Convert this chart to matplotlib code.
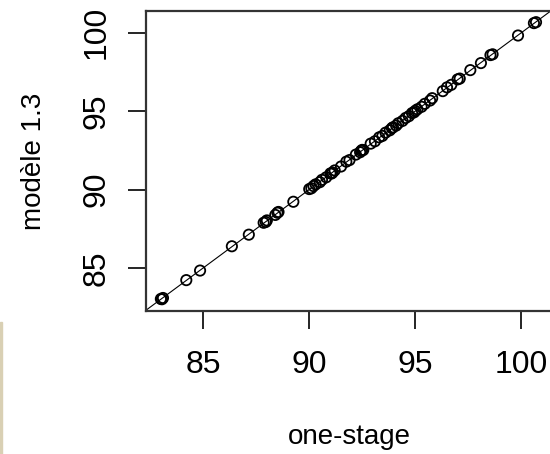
import matplotlib
matplotlib.use("Agg")
from matplotlib import pyplot as plt
from matplotlib.patches import Rectangle

# one-stage estimates vs modele 1.3 estimates
one_stage = [83.0, 83.05, 83.1, 84.2, 84.85, 86.35, 87.15,
             87.85, 87.95, 88.0, 88.4, 88.5, 88.55, 89.25,
             90.0, 90.1, 90.2, 90.3, 90.5, 90.6, 90.8,
             91.0, 91.05, 91.1, 91.2, 91.5, 91.75, 91.9,
             92.2, 92.4, 92.45, 92.5, 92.55, 92.9, 93.1,
             93.3, 93.45, 93.6, 93.8, 93.9, 93.95, 94.1, 94.2,
             94.4, 94.55, 94.7, 94.85, 94.95, 95.0,
             95.1, 95.3, 95.45, 95.7, 95.8,
             96.3, 96.5, 96.7, 97.0, 97.1, 97.6, 98.1,
             98.55, 98.65, 99.85, 100.6, 100.7]
modele_13 = [83.02, 83.0, 83.08, 84.22, 84.83, 86.38, 87.12,
             87.88, 87.93, 88.03, 88.38, 88.52, 88.57, 89.22,
             90.03, 90.08, 90.22, 90.33, 90.47, 90.62, 90.78,
             91.03, 91.02, 91.08, 91.22, 91.47, 91.78, 91.88,
             92.23, 92.38, 92.47, 92.53, 92.52, 92.93, 93.08,
             93.33, 93.42, 93.63, 93.78, 93.92, 93.97, 94.08, 94.23,
             94.38, 94.57, 94.68, 94.88, 94.93, 95.02,
             95.12, 95.28, 95.47, 95.68, 95.83,
             96.28, 96.52, 96.68, 97.03, 97.08, 97.62, 98.07,
             98.58, 98.63, 99.83, 100.62, 100.68]

ticks = [85, 90, 95, 100]

dpi = 100
fig = plt.figure(figsize=(5.5, 4.54), dpi=dpi)
ax = fig.add_axes([0.2655, 0.315, 0.738, 0.661])

ax.axline((90, 90), slope=1, color="black", lw=0.8, zorder=1)
ax.scatter(one_stage, modele_13, s=55, facecolors="none",
           edgecolors="black", linewidths=1.3, zorder=2)

ax.set_xlim(82.3, 101.45)
ax.set_ylim(82.25, 101.4)

font = ["Liberation Sans", "DejaVu Sans"]
ax.set_xticks(ticks)
ax.set_yticks(ticks)
ax.set_xticklabels([str(t) for t in ticks], family=font, fontsize=23)
ax.set_yticklabels([str(t) for t in ticks], family=font, fontsize=23,
                   rotation=90, va="center")
ax.tick_params(length=13, width=1.2, color="black")
ax.tick_params(axis="x", pad=15)
ax.tick_params(axis="y", pad=12)

for s in ax.spines.values():
    s.set_linewidth(1.6)
    s.set_color("#333333")

ax.set_xlabel("one-stage", family=font, fontsize=20, labelpad=32)
ax.set_ylabel("modèle 1.3", family=font, fontsize=20, labelpad=25)

# faint strip on the left edge of the scan
fig.patches.append(Rectangle((0, 0), 0.004, 0.29, transform=fig.transFigure,
                             color="#d9d0b4", zorder=0))

fig.savefig("out.png", dpi=dpi)
